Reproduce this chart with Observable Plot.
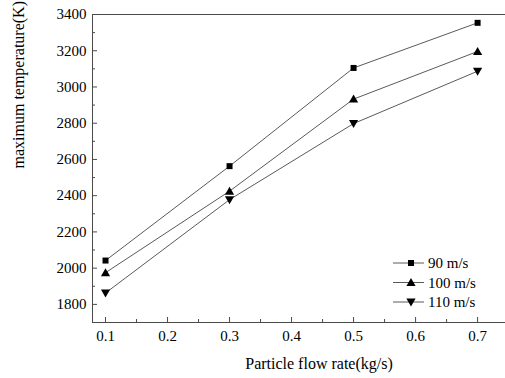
<!DOCTYPE html>
<html><head><meta charset="utf-8">
<script src="https://cdn.jsdelivr.net/npm/d3@7"></script>
<script src="https://cdn.jsdelivr.net/npm/@observablehq/plot@0.6"></script>
<style>body{margin:0;background:#fff}</style>
</head><body>
<script>
const flowRate = [0.1, 0.3, 0.5, 0.7];
const seriesNames = ["90 m/s", "100 m/s", "110 m/s"];
const temp90 = [2042, 2563, 3105, 3354];
const temp100 = [1975, 2425, 2933, 3196];
const temp110 = [1863, 2378, 2798, 3087];
const xTicks = [0.1, 0.2, 0.3, 0.4, 0.5, 0.6, 0.7];
const xMinorTicks = [0.15, 0.25, 0.35, 0.45, 0.55, 0.65];
const yTicks = [1800, 2000, 2200, 2400, 2600, 2800, 3000, 3200, 3400];
const yMinorTicks = [1700, 1900, 2100, 2300, 2500, 2700, 2900, 3100, 3300];
const xDomain = [0.079, 0.745];
const yDomain = [1700, 3400];
const xLabel = "Particle flow rate(kg/s)";
const yLabel = "maximum temperature(K)";

const W = 505, H = 378, mL = 92, mT = 14, mB = 56, mR = 0;
const frameW = W - mL - mR, frameH = H - mT - mB;
const FONT = "Liberation Serif";
const LINE = "#5a5a5a", AXIS = "#4a4a4a";

const symSquare = {draw(c) { const a = 3; c.moveTo(-a, -a); c.lineTo(a, -a); c.lineTo(a, a); c.lineTo(-a, a); c.closePath(); }};
const symUp = {draw(c) { c.moveTo(0, -4.5); c.lineTo(4.6, 3.5); c.lineTo(-4.6, 3.5); c.closePath(); }};
const symDown = {draw(c) { c.moveTo(0, 4.5); c.lineTo(4.6, -3.5); c.lineTo(-4.6, -3.5); c.closePath(); }};
const symbols = [symSquare, symUp, symDown];
const series = [temp90, temp100, temp110];

const data = [];
series.forEach((vals, i) => vals.forEach((v, j) => data.push({s: seriesNames[i], x: flowRate[j], y: v})));

const marks = [
  Plot.ruleY([yDomain[1]], {stroke: AXIS, strokeWidth: 1}),
  Plot.ruleY([yDomain[0]], {stroke: AXIS, strokeWidth: 1}),
  Plot.ruleX([xDomain[0]], {stroke: AXIS, strokeWidth: 1}),
  Plot.tickX(xTicks, {x: d => d, stroke: AXIS, insetTop: frameH - 5}),
  Plot.tickX(xMinorTicks, {x: d => d, stroke: AXIS, insetTop: frameH - 3}),
  Plot.tickY(yTicks, {y: d => d, stroke: AXIS, insetRight: frameW - 5}),
  Plot.tickY(yMinorTicks, {y: d => d, stroke: AXIS, insetRight: frameW - 3}),
  Plot.axisX({ticks: xTicks, tickSize: 0, tickPadding: 8, tickFormat: d3.format(".1f"), label: null, fontSize: 15, fontFamily: FONT, fill: "#000"}),
  Plot.axisY({ticks: yTicks, tickSize: 0, tickPadding: 6, tickFormat: d => String(d), label: null, fontSize: 15, fontFamily: FONT, fill: "#000"}),
  Plot.line(data, {x: "x", y: "y", z: "s", stroke: LINE, strokeWidth: 1}),
  ...seriesNames.map((name, i) => Plot.dot(data.filter(d => d.s === name), {x: "x", y: "y", symbol: symbols[i], r: 1, fill: "#000", stroke: "none"})),
  Plot.text([yLabel], {text: d => d, frameAnchor: "left", rotate: -90, dx: -74, fontSize: 16, fontFamily: FONT, fill: "#000"}),
  Plot.text([xLabel], {text: d => d, frameAnchor: "bottom", dy: 46, dx: 20, fontSize: 16, fontFamily: FONT, fill: "#000"})
];

const chart = Plot.plot({
  width: W, height: H,
  marginLeft: mL, marginRight: mR, marginTop: mT, marginBottom: mB,
  style: "background:#fff;color:#000;",
  x: {domain: xDomain, axis: null},
  y: {domain: yDomain, axis: null},
  marks
});

const svg = d3.select(chart).attr("font-family", FONT);

// legend
const lg = svg.append("g").attr("font-family", FONT).attr("font-size", 15).attr("text-anchor", "start");
const symPaths = symbols.map(s => d3.symbol().type(s)());
seriesNames.forEach((name, i) => {
  const y = 263 + i * 19.5;
  const g = lg.append("g").attr("transform", `translate(0,${y})`);
  g.append("line").attr("x1", 393).attr("x2", 424).attr("y1", 0).attr("y2", 0).attr("stroke", LINE).attr("stroke-width", 1);
  g.append("path").attr("d", symPaths[i]).attr("transform", "translate(411,0)").attr("fill", "#000");
  g.append("text").attr("x", 428).attr("y", 0).attr("dy", "0.35em").attr("fill", "#000").text(name);
});

document.body.appendChild(chart);
</script>
</body></html>
